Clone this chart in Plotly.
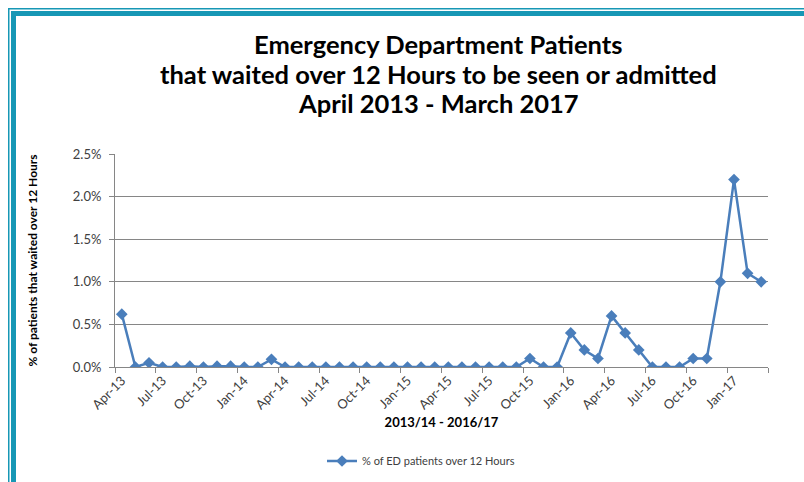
import plotly.graph_objects as go

months = ["Apr", "May", "Jun", "Jul", "Aug", "Sep", "Oct", "Nov", "Dec", "Jan", "Feb", "Mar"]
categories = []
for fy in [13, 14, 15, 16]:
    for i, m in enumerate(months):
        yr = fy if i < 9 else fy + 1
        categories.append(f"{m}-{yr}")

pct_over_12h = [
    0.62, 0.00, 0.05, 0.00, 0.00, 0.01, 0.00, 0.01, 0.01, 0.00, 0.00, 0.09,
    0.00, 0.00, 0.00, 0.00, 0.00, 0.00, 0.00, 0.00, 0.00, 0.00, 0.00, 0.00,
    0.00, 0.00, 0.00, 0.00, 0.00, 0.00, 0.10, 0.00, 0.00, 0.40, 0.20, 0.10,
    0.60, 0.40, 0.20, 0.00, 0.00, 0.00, 0.10, 0.10, 1.00, 2.20, 1.10, 1.00,
]

title_lines = [
    "Emergency Department Patients",
    "that waited over 12 Hours to be seen or admitted",
    "April 2013 - March 2017",
]
y_title = "% of patients that waited over 12 Hours"
x_title = "2013/14 - 2016/17"
series_name = "% of ED patients over 12 Hours"

W, H = 804, 482
L, R, T, B = 115, 36, 154, 115
FONT = "Lato"
LINE = "#4a7ebb"
BORDER = "#1797b5"

fig = go.Figure()
fig.add_trace(go.Scatter(
    x=categories, y=pct_over_12h, mode="lines+markers", name=series_name,
    line=dict(color=LINE, width=2.5),
    marker=dict(symbol="diamond", size=9, color=LINE),
))

pw, ph = W - L - R, H - T - B
def px(x):
    return (x - L) / pw
def py(y):
    return (H - B - y) / ph

shapes = []
for (x0, y0, x1, y1) in [(8, 8, 820, 9.5), (8, 8, 9.5, 500), (11, 11, 820, 16), (11, 11, 16, 500)]:
    shapes.append(dict(type="rect", xref="paper", yref="paper",
                       x0=px(x0), x1=px(x1), y0=py(y0), y1=py(y1),
                       fillcolor=BORDER, line=dict(width=0), layer="above"))

annotations = []
for line, yc in zip(title_lines, [44, 73.5, 102.5]):
    annotations.append(dict(text=line, xref="paper", yref="paper",
                            x=px(438), y=py(yc), xanchor="center", yanchor="middle",
                            showarrow=False,
                            font=dict(family=FONT, size=25.5, color="black", weight="bold")))

fig.update_layout(
    width=W, height=H,
    margin=dict(l=L, r=R, t=T, b=B),
    paper_bgcolor="white", plot_bgcolor="white",
    font=dict(family=FONT, color="#404040"),
    annotations=annotations,
    showlegend=True,
    legend=dict(orientation="h", xref="container", yref="container",
                x=421 / W, xanchor="center", y=1 - 461 / H, yanchor="middle",
                font=dict(family=FONT, size=11, color="#404040"), itemwidth=30),
    shapes=shapes,
    xaxis=dict(
        type="category", range=[-0.5, len(categories) - 0.5],
        tickmode="linear", tick0=0, dtick=3, tickson="boundaries",
        tickangle=-45, ticks="outside", ticklen=5, tickcolor="#868686",
        showline=True, linecolor="#868686", linewidth=1, showgrid=False,
        tickfont=dict(family=FONT, size=13, color="#404040"),
        title=dict(text=x_title, standoff=6,
                   font=dict(family=FONT, size=13, color="black", weight="bold")),
    ),
    yaxis=dict(
        range=[0, 2.5], dtick=0.5, tickformat=".1f", ticksuffix="%",
        ticks="outside", ticklen=5, tickcolor="#868686", ticklabelstandoff=5,
        showline=True, linecolor="#868686", linewidth=1,
        showgrid=True, gridcolor="#868686", gridwidth=1, zeroline=False,
        tickfont=dict(family=FONT, size=13, color="#404040"),
        title=dict(text=y_title, standoff=32,
                   font=dict(family=FONT, size=12, color="black", weight="bold")),
    ),
)

fig.write_html("out.html")
